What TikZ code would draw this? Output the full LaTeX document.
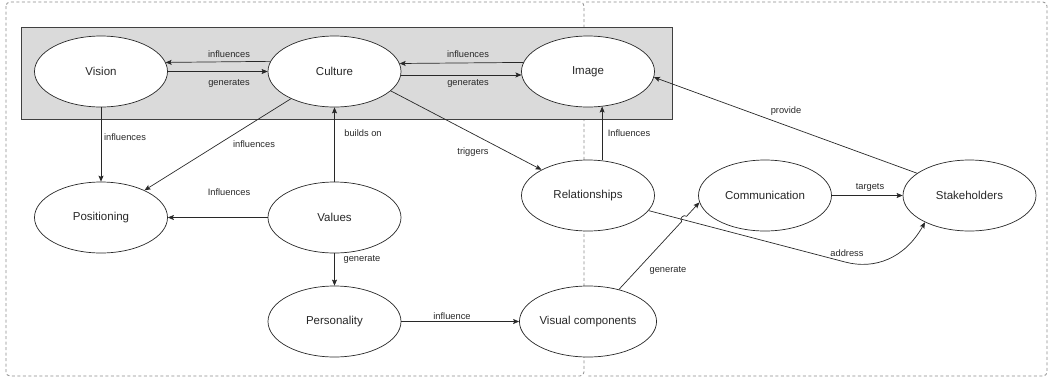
\documentclass[tikz,border=0pt]{standalone}
\usepackage{fontspec}
\setmainfont{Liberation Sans}
\usetikzlibrary{arrows.meta,shapes.geometric,calc}
\definecolor{boxgray}{RGB}{218,218,218}
\definecolor{ink}{RGB}{40,40,40}
\definecolor{dashgray}{RGB}{140,140,140}
\begin{document}
\begin{tikzpicture}[x=1pt,y=-1pt,
  ell/.style={ellipse,draw=ink,line width=0.7pt,fill=white,minimum width=133pt,minimum height=71pt,inner sep=0pt,font=\fontsize{11.5}{13}\selectfont,text=ink},
  conn/.style={draw=ink,line width=0.7pt,-{Stealth[length=6pt,width=5pt,inset=1.2pt]}},
  lbl/.style={font=\fontsize{9.3}{11}\selectfont,inner sep=0pt,text=ink},
  region/.style={draw=dashgray,dash pattern=on 3pt off 2.5pt,line width=0.8pt,rounded corners=4pt}]
\useasboundingbox (0,0) rectangle (1050,378);
\draw[region] (6,2) rectangle (584,376);
\draw[region] (586,2) -- (1047,2) -- (1047,376) -- (586,376);
\node[draw=black!75,line width=0.9pt,fill=boxgray,minimum width=651pt,minimum height=92pt,inner sep=0pt,anchor=north west] (core) at (21,27) {};
% nodes
\node[ell] (vis) at (101,71.5) {Vision};
\node[ell] (cul) at (334.5,71.5) {Culture};
\node[ell] (img) at (588,71.5) {Image};
\node[ell] (pos) at (101,217.5) {Positioning};
\node[ell] (val) at (334.5,217.5) {Values};
\node[ell] (rel) at (588,195.5) {Relationships};
\node[ell] (com) at (765,195.5) {Communication};
\node[ell] (stk) at (969.5,195.5) {Stakeholders};
\node[ell] (per) at (334.5,321.5) {Personality};
\node[ell] (vc) at (588,321.5) {Visual components};
% connectors
\draw[conn] (cul.171.6) -- (vis.8.4);
\draw[conn] (vis.east) -- (cul.west);
\draw[conn] (img.172.5) -- (cul.7.5);
\draw[conn] (cul.-3) -- (img.183);
\draw[conn] (vis.south) -- (pos.north);
\draw[conn] (cul) -- (pos);
\draw[conn] (val.north) -- (cul.south);
\draw[conn] (val.west) -- (pos.east);
\draw[conn] (val.south) -- (per.north);
\draw[conn] (per.east) -- (vc.west);
\draw[conn] (cul.-19) -- (rel.151);
\draw[conn] (rel.68) -- (img.-68);
\draw[conn] (stk.157.6) -- (img.-5);
\draw[conn] (com.east) -- (stk.west);
\coordinate (ad1) at (845,262);
\draw[conn] (rel.-14) -- (ad1) .. controls (875,270) and (905,258) .. (stk.211);
\coordinate (g1) at ($(vc.46)!0.78!(com.186)$);
\coordinate (g2) at ($(vc.46)!0.84!(com.186)$);
\draw[conn] (vc.46) -- (g1) to[bend left=90,looseness=1.4] (g2) -- (com.186);
% labels
\node[lbl] (l1) at (229,54) {influences};
\node[lbl] (l2) at (229,83) {generates};
\node[lbl] (l3) at (468,54) {influences};
\node[lbl] (l4) at (468,83) {generates};
\node[lbl] (l5) at (125,137) {influences};
\node[lbl] (l6) at (254,144) {influences};
\node[lbl] (l7) at (363,133) {builds on};
\node[lbl] (l8) at (229,192) {Influences};
\node[lbl] (l9) at (362,259) {generate};
\node[lbl] (l10) at (452,316) {influence};
\node[lbl] (l11) at (473,152) {triggers};
\node[lbl] (l12) at (629,133) {Influences};
\node[lbl] (l13) at (786,111) {provide};
\node[lbl] (l14) at (870,187) {targets};
\node[lbl] (l15) at (847,253) {address};
\node[lbl] (l16) at (668,270) {generate};
\end{tikzpicture}
\end{document}
